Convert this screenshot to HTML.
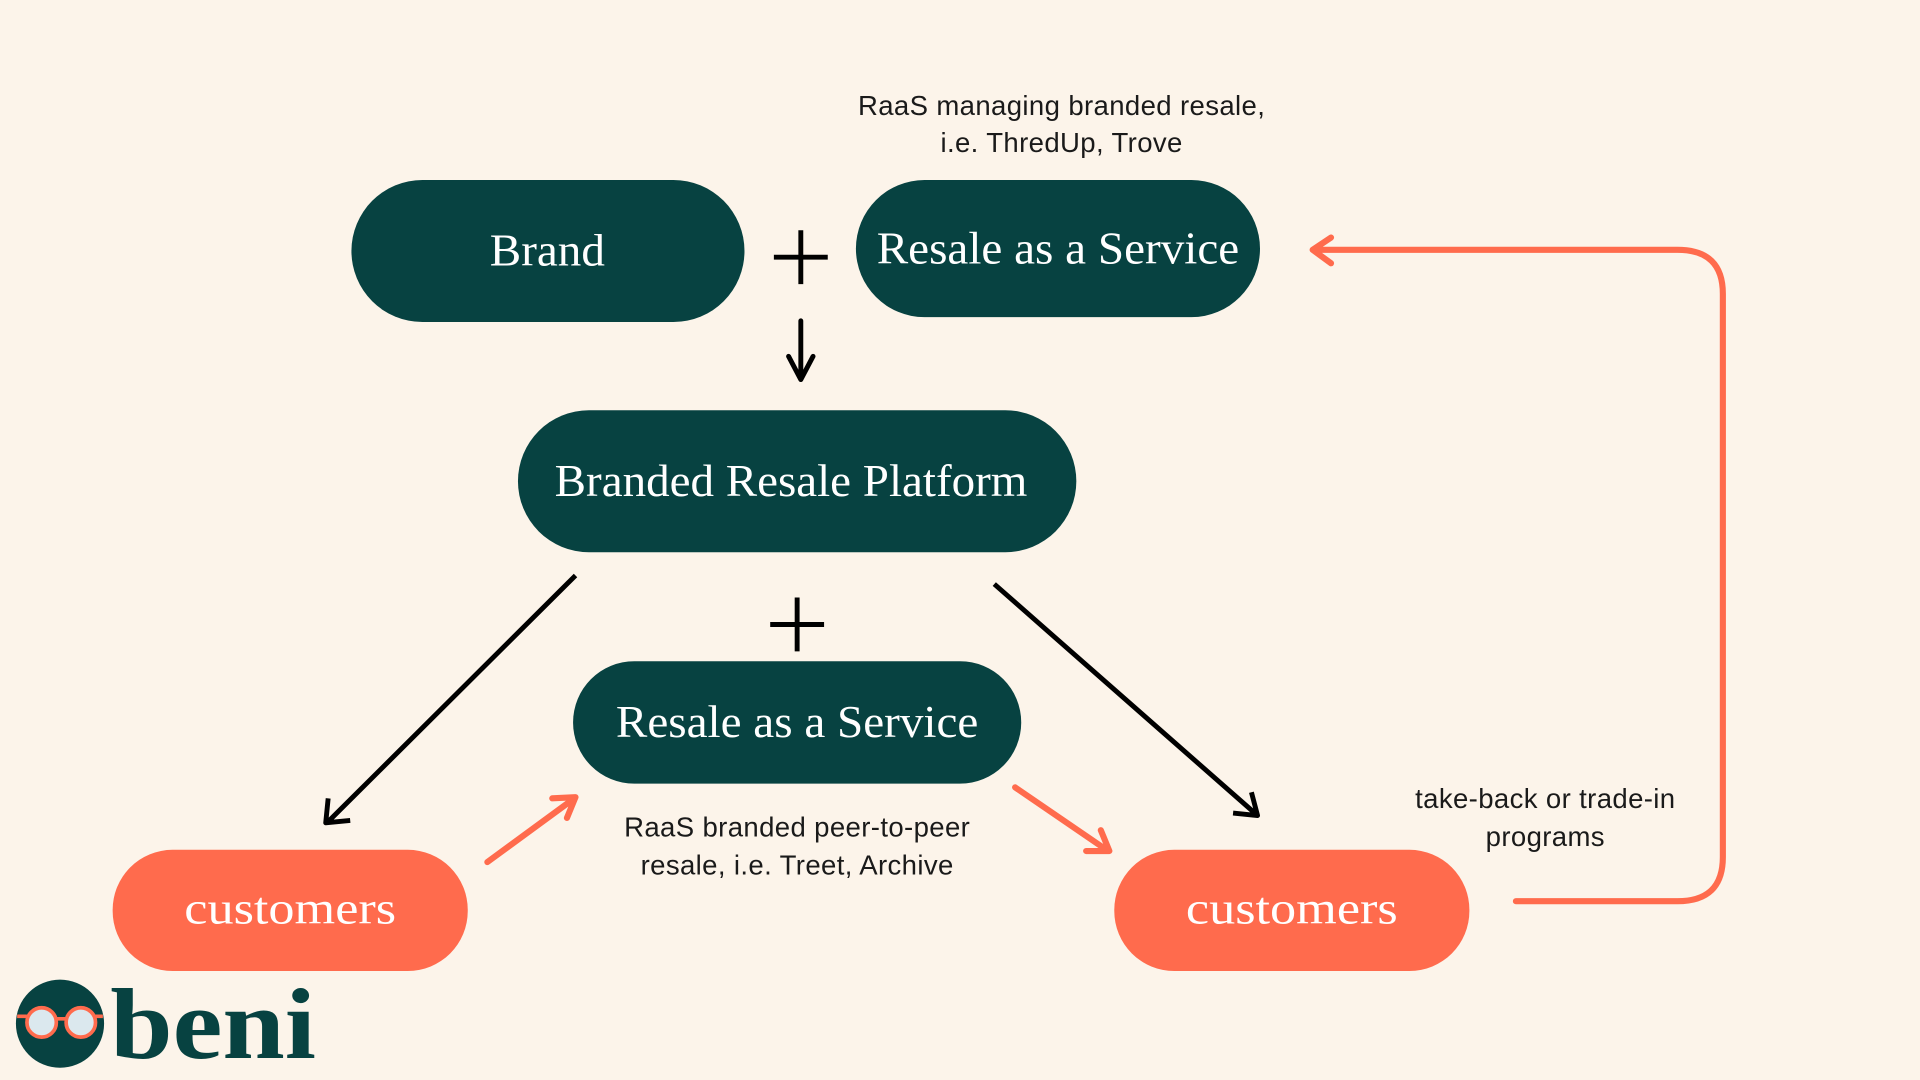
<!DOCTYPE html>
<html><head><meta charset="utf-8"><style>
html,body{margin:0;padding:0;background:#FCF4EA;}
svg{display:block}
</style></head><body>
<svg width="1920" height="1080" viewBox="0 0 1568 882" xmlns="http://www.w3.org/2000/svg">
<rect width="1568" height="882" fill="#FCF4EA"/>
<g fill="#074241">
<rect x="287" y="147" width="321" height="116" rx="58"/>
<rect x="699" y="147" width="330" height="112" rx="56"/>
<rect x="423" y="335" width="456" height="116" rx="58"/>
<rect x="468" y="540" width="366" height="100" rx="50"/>
</g>
<g fill="#FF6B4D">
<rect x="92" y="694" width="290" height="99" rx="49"/>
<rect x="910" y="694" width="290" height="99" rx="49"/>
</g>
<g font-family="Liberation Serif, serif" fill="#fff" font-size="37" text-anchor="middle">
<text x="447" y="217" textLength="94" lengthAdjust="spacingAndGlyphs">Brand</text>
<text x="864" y="215" textLength="296" lengthAdjust="spacingAndGlyphs">Resale as a Service</text>
<text x="646" y="405" textLength="386" lengthAdjust="spacingAndGlyphs">Branded Resale Platform</text>
<text x="651" y="602" textLength="296" lengthAdjust="spacingAndGlyphs">Resale as a Service</text>
<text x="237" y="754" textLength="173" lengthAdjust="spacingAndGlyphs">customers</text>
<text x="1055" y="754" textLength="173" lengthAdjust="spacingAndGlyphs">customers</text>
</g>
<g stroke="#000" stroke-width="4" fill="none">
<path d="M632 210H676M654 188V232"/>
<path d="M629 510H673M651 488V532"/>
<path d="M654 262V308M644 291L654 310L664 291" stroke-linejoin="round" stroke-linecap="round"/>
<path d="M470 470L268 671M268 652L266 672L286 670" stroke-linejoin="round"/>
<path d="M812 477L1027 666M1022 647L1027 666L1007 664" stroke-linejoin="round"/>
</g>
<g stroke="#FF6B4D" stroke-width="5" fill="none" stroke-linecap="round" stroke-linejoin="round">
<path d="M398 704L469 652M451 652L470 651L463 668"/>
<path d="M829 643L905 695M887 695L906 695L899 678"/>
<path d="M1238 736H1370Q1407 736 1407 700V240Q1407 204 1370 204H1072M1087 194L1072 204L1087 215"/>
</g>
<g font-family="Liberation Sans, sans-serif" font-size="22.5" letter-spacing="0.3" fill="#1a1a1a" text-anchor="middle">
<text x="867" y="94">RaaS managing branded resale,</text>
<text x="867" y="124">i.e. ThredUp, Trove</text>
<text x="651" y="683">RaaS branded peer-to-peer</text>
<text x="651" y="714">resale, i.e. Treet, Archive</text>
<text x="1262" y="660">take-back or trade-in</text>
<text x="1262" y="691">programs</text>
</g>
<circle cx="49" cy="836" r="36" fill="#074241"/>
<g stroke="#FF6B4D" stroke-width="3" fill="#dbe8ee">
<circle cx="34" cy="835" r="12"/><circle cx="66" cy="835" r="12"/>
<path d="M14 830H22M46 832H54M78 830H84" fill="none"/>
</g>
<text x="90" y="864" font-family="Liberation Serif, serif" font-weight="bold" font-size="82" fill="#074241" textLength="168" lengthAdjust="spacingAndGlyphs">beni</text>
</svg>
</body></html>
